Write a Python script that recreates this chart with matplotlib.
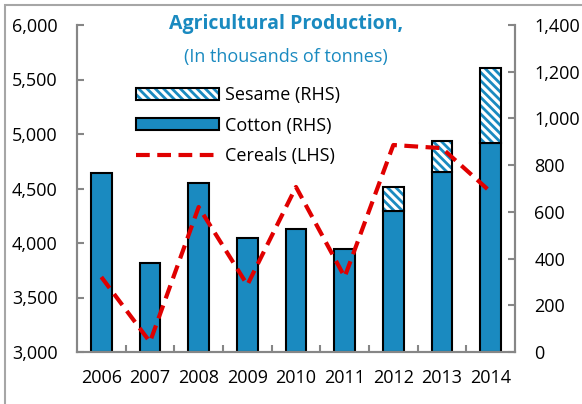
import numpy as np
import matplotlib.pyplot as plt
from matplotlib.patches import Rectangle

plt.rcParams['font.family'] = ['Open Sans', 'DejaVu Sans']
plt.rcParams['hatch.linewidth'] = 2.0

years = ['2006', '2007', '2008', '2009', '2010', '2011', '2012', '2013', '2014']
cotton = [766, 381, 723, 488, 527, 441, 604, 770, 895]
sesame = [0, 0, 0, 0, 0, 0, 102, 133, 321]
cereals = [3688, 3092, 4330, 3615, 4514, 3688, 4899, 4870, 4468]

blue = '#1a8ac0'
title_blue = '#1a8ac0'
axis_grey = '#868686'

fig = plt.figure(figsize=(5.82, 4.04), dpi=100)
fig.patches.append(Rectangle((5 / 582, -0.1), 1.2, 1.1 - 5 / 404,
                             transform=fig.transFigure, fill=False,
                             edgecolor='#a6a6a6', linewidth=1.5))

# bars on the right-hand scale, cereals line on a twin above them
ax_r = fig.add_axes([77 / 582, 52 / 404, 438 / 582, 327 / 404])
ax_l = ax_r.twinx()
ax_r.yaxis.tick_right()
ax_l.yaxis.tick_left()

x = np.arange(len(years))
w = 0.43
b_cot = ax_r.bar(x, cotton, width=w, color=blue, edgecolor='black', linewidth=1.5)
sx = [i for i, s in enumerate(sesame) if s > 0]
ses_x = [x[i] for i in sx]
ses_h = [sesame[i] for i in sx]
ses_b = [cotton[i] for i in sx]
# hatch takes the edge colour, so draw stripes and outline separately
ax_r.bar(ses_x, ses_h, width=w, bottom=ses_b, color='white', hatch='\\\\\\\\',
         edgecolor=blue, linewidth=0)
ax_r.bar(ses_x, ses_h, width=w, bottom=ses_b, fill=False,
         edgecolor='black', linewidth=1.5)
ln, = ax_l.plot(x, cereals, color='#e00000', linestyle=(0, (3.3, 1.8)), linewidth=3)

ses_handle = Rectangle((0, 0), 1, 1, facecolor='white', hatch='\\\\\\\\',
                       edgecolor=blue, linewidth=0)
ses_frame = Rectangle((0, 0), 1, 1, fill=False, edgecolor='black', linewidth=1.5)

ax_r.set_ylim(0, 1400)
ax_r.set_yticks(range(0, 1401, 200))
ax_r.set_yticklabels([f'{v:,}' for v in range(0, 1401, 200)])
ax_l.set_ylim(3000, 6000)
ax_l.set_yticks(range(3000, 6001, 500))
ax_l.set_yticklabels([f'{v:,}' for v in range(3000, 6001, 500)])
ax_r.set_xlim(-0.5, len(years) - 0.5)
ax_r.set_xticks(x)
ax_r.set_xticklabels(years)
ax_r.set_xticks(np.arange(0.5, len(years) - 1, 1), minor=True)

for a in (ax_r, ax_l):
    a.spines['top'].set_visible(False)
    for s in ('left', 'right', 'bottom'):
        a.spines[s].set_color(axis_grey)
        a.spines[s].set_linewidth(1.5)
    a.tick_params(axis='y', direction='in', length=5, width=1.5, color=axis_grey,
                  labelsize=13, pad=14)
ax_r.tick_params(axis='x', which='major', length=0, labelsize=13, pad=12)
ax_r.tick_params(axis='x', which='minor', direction='in', length=5, width=1.5,
                 color=axis_grey)

fig.text(286 / 582, 1 - 24 / 404, 'Agricultural Production,', ha='center',
         va='center', fontsize=14, fontweight='bold', color=title_blue)
fig.text(286 / 582, 1 - 57 / 404, '(In thousands of tonnes)', ha='center',
         va='center', fontsize=13, color=title_blue)

ax_l.legend([(ses_handle, ses_frame), b_cot, ln],
            ['Sesame (RHS)', 'Cotton (RHS)', 'Cereals (LHS)'],
            loc='upper left', bbox_to_anchor=(136 / 582, 1 - 86 / 404),
            bbox_transform=fig.transFigure, frameon=False, fontsize=13,
            handlelength=4.6, handleheight=0.65, handletextpad=0.35,
            labelspacing=0.7, borderaxespad=0, borderpad=0)

fig.savefig('out.png', dpi=100)
